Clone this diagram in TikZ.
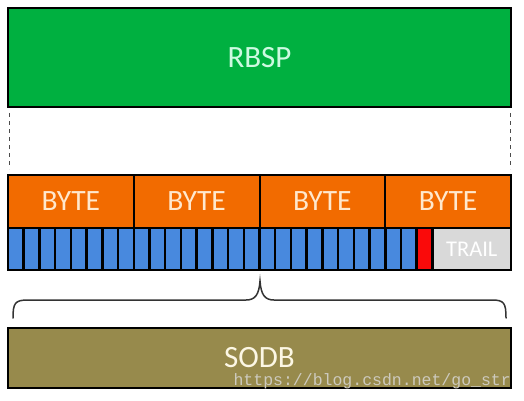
\documentclass[tikz,border=0pt]{standalone}
\usepackage{fontspec}
\setmainfont{Carlito}
\newfontfamily\markfont{Liberation Mono}
\usetikzlibrary{positioning}
\definecolor{rbspgreen}{RGB}{0,176,64}
\definecolor{rbsptext}{RGB}{205,250,225}
\definecolor{byteorange}{RGB}{242,107,0}
\definecolor{bytetext}{RGB}{255,232,205}
\definecolor{bitblue}{RGB}{72,137,222}
\definecolor{stopred}{RGB}{250,10,10}
\definecolor{trailgray}{RGB}{217,217,217}
\definecolor{sodbolive}{RGB}{151,138,76}
\definecolor{sodbtext}{RGB}{252,247,228}
\definecolor{marktext}{RGB}{205,202,190}

\begin{document}
\begin{tikzpicture}[
    x=1pt, y=-1pt,
    layer/.style={
        rectangle,
        draw=black,
        line width=2pt,
        inner sep=0pt,
        minimum width=503pt,
        font=\fontsize{31}{31}\selectfont,
    },
    bytebox/.style={layer, minimum width=125.75pt, minimum height=53pt,
        fill=byteorange, text=bytetext, font=\fontsize{29.5}{29.5}\selectfont},
    bitcell/.style={rectangle, draw=black, line width=2.5pt, inner sep=0pt,
        minimum width=15.72pt, minimum height=42pt, fill=bitblue},
    dashline/.style={draw=black!70, line width=1pt, dash pattern=on 4pt off 4pt},
    bracepath/.style={draw=black!80, line width=1.5pt, line cap=round},
    wmark/.style={font=\markfont\fontsize{16.5}{16.5}\selectfont, text=marktext, anchor=base east, inner sep=0pt}
]
\useasboundingbox (0,0) rectangle (524,401);

\node[layer, fill=rbspgreen, text=rbsptext, minimum height=99pt] (rbsp) at (259.5,57.5) {RBSP};

\foreach \i in {1,...,4}
    \node[bytebox] (byte\i) at ({8+125.75*(\i-0.5)},201.5) {BYTE};

\foreach \i in {1,...,26}
    \node[bitcell] (bit\i) at ({8+15.72*(\i-0.5)},249) {};
\node[bitcell, fill=stopred] (stop) at ({8+15.72*26.5},249) {};
\node[bitcell, fill=trailgray, minimum width=78.6pt, text=white,
      font=\fontsize{22.5}{22.5}\selectfont] (trail) at ({8+15.72*27+39.3},249) {TRAIL};

\node[layer, fill=sodbolive, text=sodbtext, minimum height=60pt] (sodb) at (259.5,358) {SODB};
\node[wmark] (mark) at (511,385) {https://blog.csdn.net/go\_str};

\draw[dashline] ([xshift=2pt,yshift=-5pt]rbsp.south west) -- ([xshift=2pt,yshift=5pt]byte1.north west);
\draw[dashline] ([xshift=-2pt,yshift=-5pt]rbsp.south east) -- ([xshift=-2pt,yshift=5pt]byte4.north east);

% brace over the sodb
\draw[bracepath] (13,318) .. controls (13,303) and (15,300) .. (28,300) -- (246,300)
    .. controls (255,300) and (259,295) .. (260,281)
    .. controls (261,295) and (265,300) .. (274,300) -- (492,300)
    .. controls (504,300) and (506,303) .. (506,318);
\end{tikzpicture}
\end{document}
